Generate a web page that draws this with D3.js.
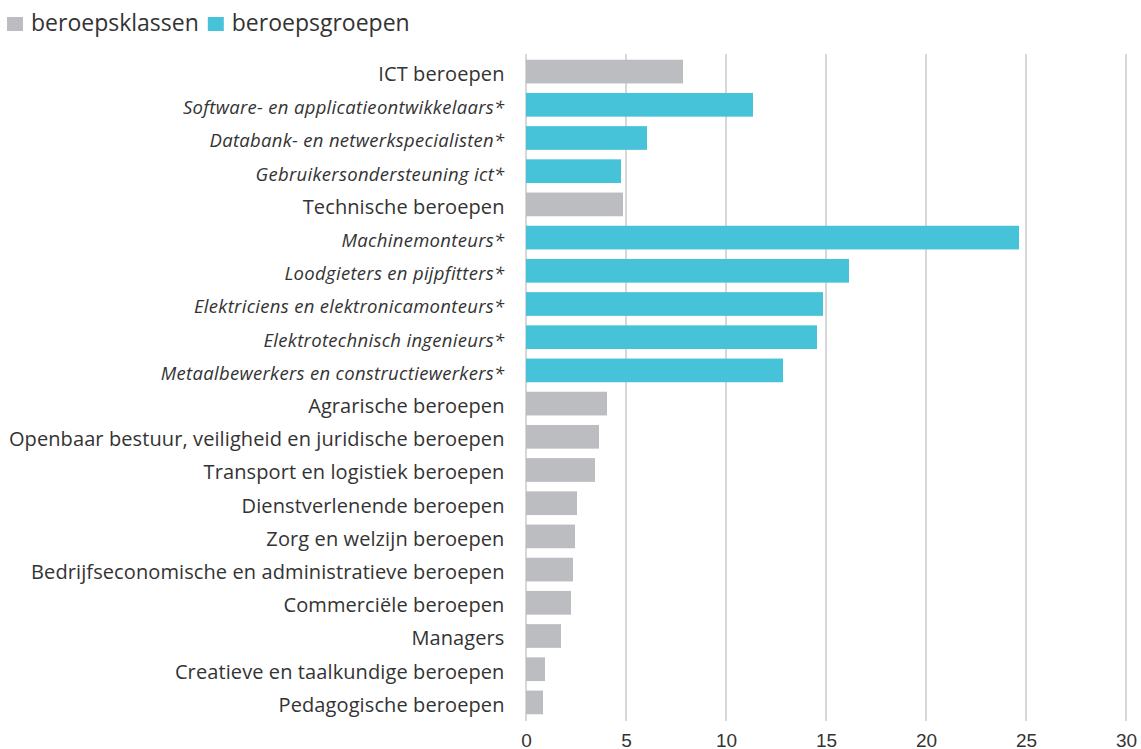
<!DOCTYPE html>
<html><head><meta charset="utf-8">
<script src="https://cdn.jsdelivr.net/npm/d3@7"></script>
<style>
html,body{margin:0;padding:0;background:#fff;}
svg{display:block;font-family:"Open Sans",sans-serif;}
</style></head>
<body>
<svg id="chart" width="1141" height="749"></svg>
<script>
const categories = [
  "ICT beroepen",
  "Software- en applicatieontwikkelaars*",
  "Databank- en netwerkspecialisten*",
  "Gebruikersondersteuning ict*",
  "Technische beroepen",
  "Machinemonteurs*",
  "Loodgieters en pijpfitters*",
  "Elektriciens en elektronicamonteurs*",
  "Elektrotechnisch ingenieurs*",
  "Metaalbewerkers en constructiewerkers*",
  "Agrarische beroepen",
  "Openbaar bestuur, veiligheid en juridische beroepen",
  "Transport en logistiek beroepen",
  "Dienstverlenende beroepen",
  "Zorg en welzijn beroepen",
  "Bedrijfseconomische en administratieve beroepen",
  "Commerciële beroepen",
  "Managers",
  "Creatieve en taalkundige beroepen",
  "Pedagogische beroepen"
];
const values = [7.85, 11.35, 6.05, 4.75, 4.85, 24.65, 16.15, 14.85, 14.55, 12.85,
                4.05, 3.65, 3.45, 2.55, 2.45, 2.35, 2.25, 1.75, 0.95, 0.85];
const seriesType = ["klasse","groep","groep","groep","klasse","groep","groep","groep","groep","groep",
                    "klasse","klasse","klasse","klasse","klasse","klasse","klasse","klasse","klasse","klasse"];
const seriesNames = ["beroepsklassen", "beroepsgroepen"];
const seriesKeys = ["klasse", "groep"];
const xTicks = [0, 5, 10, 15, 20, 25, 30];

const data = categories.map((c, i) => ({cat: c, value: values[i], type: seriesType[i]}));
const color = d3.scaleOrdinal().domain(seriesKeys).range(["#bcbdc1", "#46c3d8"]);

const svg = d3.select("#chart");
const x = d3.scaleLinear().domain([0, 30]).range([526, 1126]);
const y = d3.scaleBand().domain(categories).range([55, 719]).paddingInner(0.286).paddingOuter(0.143);

// gridlines
svg.append("g").selectAll("line").data(xTicks).join("line")
  .attr("x1", d => x(d)).attr("x2", d => x(d))
  .attr("y1", 54).attr("y2", 721)
  .attr("stroke", "#cacaca").attr("stroke-width", 1.5);

// bars
svg.append("g").selectAll("rect").data(data).join("rect")
  .attr("x", x(0)).attr("y", d => y(d.cat))
  .attr("width", d => x(d.value) - x(0)).attr("height", y.bandwidth())
  .attr("fill", d => color(d.type));

// category labels
svg.append("g").selectAll("text").data(data).join("text")
  .attr("x", 504.5).attr("y", d => y(d.cat) + y.bandwidth() - 2.5)
  .attr("text-anchor", "end")
  .attr("font-size", d => d.type === "groep" ? 18.5 : 20)
  .attr("letter-spacing", d => d.type === "groep" ? 0.3 : 0.1)
  .attr("font-style", d => d.type === "groep" ? "italic" : "normal")
  .attr("fill", "#333")
  .text(d => d.cat);

// x axis
const xAxis = d3.axisBottom(x).tickValues(xTicks).tickSize(0).tickPadding(0);
const gx = svg.append("g").call(xAxis);
gx.select(".domain").remove();
gx.selectAll("text").attr("font-size", 19).attr("fill", "#333")
  .attr("font-family", "'Liberation Sans',Arial,sans-serif")
  .attr("y", 746.5).attr("dy", null);

// legend
const leg = svg.append("g");
let lx = 7;
seriesKeys.forEach((k, i) => {
  leg.append("rect").attr("x", lx).attr("y", 17).attr("width", 16).attr("height", 14).attr("fill", color(k));
  const t = leg.append("text").attr("x", lx + 24).attr("y", 30.7)
    .attr("font-size", 23).attr("fill", "#333").text(seriesNames[i]);
  lx += 24 + t.node().getComputedTextLength() + 9;
});
</script>
</body></html>
